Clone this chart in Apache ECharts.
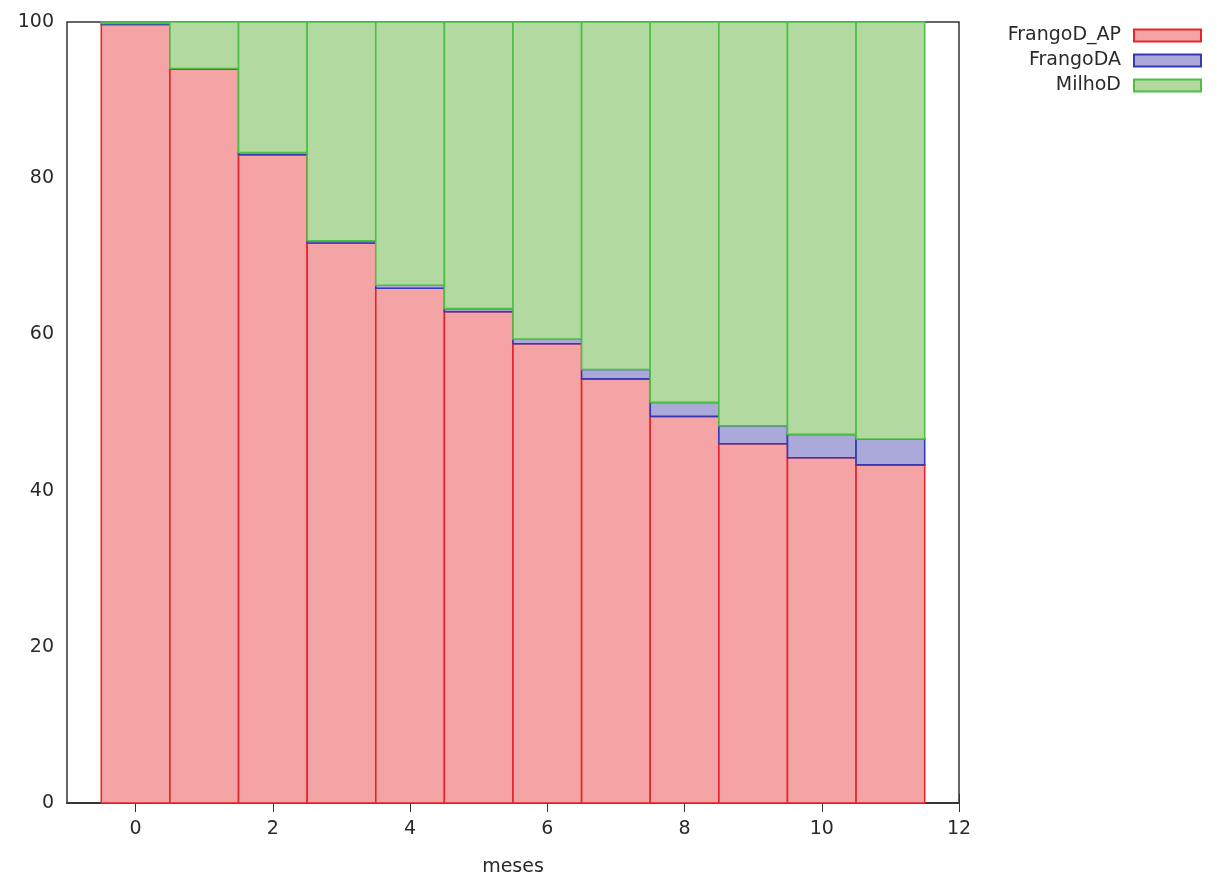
<!DOCTYPE html>
<html>
<head>
<meta charset="utf-8">
<script src="https://cdn.jsdelivr.net/npm/echarts@6/dist/echarts.min.js"></script>
<style>
  html, body { margin: 0; padding: 0; background: #fff; }
  #chart { width: 1217px; height: 880px; }
</style>
</head>
<body>
<div id="chart"></div>
<script>
// Monthly composition (%), stacked: FrangoD_AP at the bottom, then FrangoDA, then MilhoD
const months = [0, 1, 2, 3, 4, 5, 6, 7, 8, 9, 10, 11];
const frangoDAP = [99.7, 94.0, 83.0, 71.7, 65.9, 62.9, 58.8, 54.3, 49.5, 46.0, 44.2, 43.3];
const frangoDA  = [0.1, 0.05, 0.3, 0.3, 0.4, 0.4, 0.6, 1.2, 1.8, 2.3, 3.0, 3.3];
const milhoD    = [0.2, 5.95, 16.7, 28.0, 33.7, 36.7, 40.6, 44.5, 48.7, 51.7, 52.8, 53.4];
const xTicks = [0, 2, 4, 6, 8, 10, 12];

const seriesDefs = [
  { name: 'FrangoD_AP', values: frangoDAP, fill: '#f4a4a5', stroke: '#e8242c' },
  { name: 'FrangoDA',   values: frangoDA,  fill: '#aba8da', stroke: '#3838b4' },
  { name: 'MilhoD',     values: milhoD,    fill: '#b1d9a0', stroke: '#4cc043' }
];

// cumulative bases for stacking
const base = months.map(() => 0);
const series = seriesDefs.map(def => {
  const data = months.map((m, i) => {
    const lo = base[i];
    const hi = lo + def.values[i];
    base[i] = hi;
    return [m, lo, hi];
  });
  return {
    name: def.name,
    type: 'custom',
    encode: { x: 0, y: [1, 2] },
    itemStyle: { color: def.fill, borderColor: def.stroke, borderWidth: 2 },
    data: data,
    renderItem: function (params, api) {
      const x = api.value(0);
      const p1 = api.coord([x - 0.5, api.value(2)]);
      const p2 = api.coord([x + 0.5, api.value(1)]);
      return {
        type: 'rect',
        shape: { x: p1[0], y: p1[1], width: p2[0] - p1[0], height: p2[1] - p1[1] },
        style: { fill: def.fill, stroke: def.stroke, lineWidth: 1.6 }
      };
    }
  };
});

const axisColor = '#333';
const labelStyle = { color: '#2a2a2a', fontSize: 19, fontFamily: 'DejaVu Sans' };

const chart = echarts.init(document.getElementById('chart'), null, { renderer: 'canvas' });
chart.setOption({
  animation: false,
  backgroundColor: '#fff',
  grid: {
    left: 67, right: 258, top: 22, bottom: 77,
    outerBoundsMode: 'none', containLabel: false,
    show: true, borderColor: axisColor, borderWidth: 1.5
  },
  legend: {
    orient: 'vertical',
    right: 15,
    top: 26,
    padding: 0,
    align: 'right',
    itemWidth: 67,
    itemHeight: 12,
    itemGap: 6,
    icon: 'rect',
    textStyle: {
      color: '#2a2a2a', fontSize: 19, fontFamily: 'DejaVu Sans',
      lineHeight: 19, width: 140, align: 'right', padding: [0, 8, 0, 0]
    },
    data: seriesDefs.map(d => ({
      name: d.name,
      itemStyle: { color: d.fill, borderColor: d.stroke, borderWidth: 2 }
    }))
  },
  xAxis: [
    {
      type: 'value', position: 'bottom', min: -1, max: 12,
      name: 'meses', nameLocation: 'middle', nameGap: 55,
      nameTextStyle: labelStyle,
      axisLine: { show: true, lineStyle: { color: axisColor, width: 1.5 } },
      axisTick: { show: true, inside: true, length: 9, customValues: xTicks, lineStyle: { color: axisColor } },
      axisLabel: { ...labelStyle, margin: 17, customValues: xTicks },
      splitLine: { show: false }
    },
    {
      type: 'value', position: 'top', min: -1, max: 12,
      axisLine: { show: true, lineStyle: { color: axisColor, width: 1.5 } },
      axisTick: { show: true, inside: true, length: 9, customValues: xTicks, lineStyle: { color: axisColor } },
      axisLabel: { show: false },
      splitLine: { show: false }
    }
  ],
  yAxis: [
    {
      type: 'value', position: 'left', min: 0, max: 100, interval: 20,
      axisLine: { show: true, lineStyle: { color: axisColor, width: 1.5 } },
      axisTick: { show: true, inside: true, length: 9, lineStyle: { color: axisColor } },
      axisLabel: { ...labelStyle, margin: 13 },
      splitLine: { show: false }
    },
    {
      type: 'value', position: 'right', min: 0, max: 100, interval: 20,
      axisLine: { show: true, lineStyle: { color: axisColor, width: 1.5 } },
      axisTick: { show: true, inside: true, length: 9, lineStyle: { color: axisColor } },
      axisLabel: { show: false },
      splitLine: { show: false }
    }
  ],
  series: series
});
</script>
</body>
</html>
